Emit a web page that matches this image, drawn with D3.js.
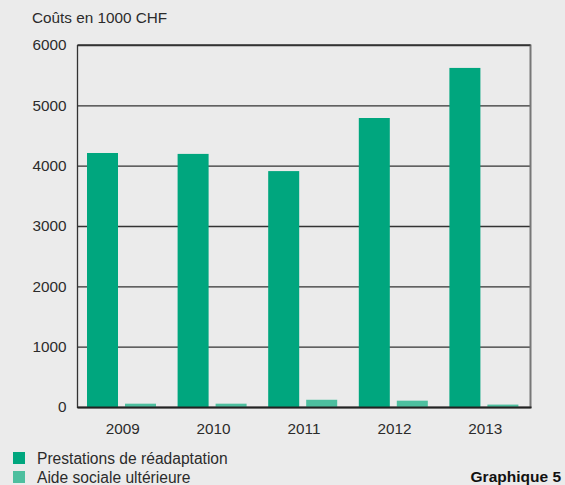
<!DOCTYPE html>
<html><head><meta charset="utf-8">
<script src="https://cdn.jsdelivr.net/npm/d3@7"></script>
<style>
html,body{margin:0;padding:0;background:#ebebeb;}
svg{display:block;font-family:"Liberation Sans","Helvetica",Arial,sans-serif;}
</style></head><body>
<svg id="chart" width="565" height="485"></svg>
<script>
const years = ["2009","2010","2011","2012","2013"];
const seriesNames = ["Prestations de réadaptation","Aide sociale ultérieure"];
const readaptation = [4210, 4195, 3910, 4790, 5620];
const aideSociale = [55, 55, 120, 105, 40];
const yTicks = [0,1000,2000,3000,4000,5000,6000];
const colors = ["#00a67e","#4dbf9f"];

(function(){
const svg = d3.select("#chart");
const pLeft = 77.5, pRight = 530.5, pTop = 45, pBottom = 407;
const fs = "15.3px", txt = "#2b2b2b";

const x0 = d3.scaleBand().domain(years).range([pLeft, pRight]).padding(0);
const x1 = d3.scaleBand().domain(seriesNames).range([9.5, 78.5]).paddingInner(7/38).paddingOuter(0);
const y = d3.scaleLinear().domain([0, 6000]).range([pBottom, pTop]);

// gridlines
const yAxis = d3.axisLeft(y).tickValues(yTicks).tickSize(-(pRight-pLeft)).tickPadding(11).tickFormat(d3.format("d"));
const gy = svg.append("g").attr("transform", `translate(${pLeft},0)`).call(yAxis);
gy.select(".domain").remove();
gy.selectAll(".tick line").attr("stroke", "#333").attr("stroke-width", 1.3);
gy.selectAll(".tick text").attr("fill", txt).style("font-size", fs);

// bars
const data = years.map((yr, i) => ({year: yr, vals: [readaptation[i], aideSociale[i]]}));
const groups = svg.append("g").selectAll("g").data(data).join("g")
  .attr("transform", d => `translate(${x0(d.year)},0)`);
groups.selectAll("rect").data(d => d.vals.map((v, j) => ({name: seriesNames[j], v, j})))
  .join("rect")
  .attr("x", d => x1(d.name))
  .attr("width", x1.bandwidth())
  .attr("y", d => y(d.v))
  .attr("height", d => y(0) - y(d.v))
  .attr("fill", d => colors[d.j]);

// frame
svg.append("line").attr("x1", pLeft).attr("x2", pLeft).attr("y1", pTop).attr("y2", pBottom+1).attr("stroke", "#333").attr("stroke-width", 1.3);
svg.append("line").attr("x1", pRight).attr("x2", pRight).attr("y1", pTop-0.5).attr("y2", pBottom+1).attr("stroke", "#777").attr("stroke-width", 2);
svg.append("line").attr("x1", pLeft).attr("x2", pRight+1).attr("y1", pBottom+0.5).attr("y2", pBottom+0.5).attr("stroke", "#222").attr("stroke-width", 1.8);
svg.append("line").attr("x1", pLeft).attr("x2", pRight).attr("y1", pTop).attr("y2", pTop).attr("stroke", "#333").attr("stroke-width", 1.3);

// x labels
const xAxis = d3.axisBottom(x0).tickSize(0).tickPadding(16);
const gx = svg.append("g").attr("transform", `translate(0,${pBottom})`).call(xAxis);
gx.select(".domain").remove();
gx.selectAll(".tick text").attr("fill", txt).style("font-size", fs);

// title
svg.append("text").attr("x", 32).attr("y", 23).attr("fill", txt).style("font-size", fs).text("Coûts en 1000 CHF");

// legend
const leg = svg.append("g").selectAll("g").data(seriesNames).join("g")
  .attr("transform", (d, i) => `translate(13,${452 + i*19})`);
leg.append("rect").attr("width", 12).attr("height", 12).attr("fill", (d, i) => colors[i]);
leg.append("text").attr("x", 24).attr("y", 11.5).attr("fill", txt).style("font-size", "15.6px").text(d => d);

svg.append("text").attr("x", 561).attr("y", 482).attr("text-anchor", "end").attr("fill", "#111")
  .style("font-size", "15.5px").style("font-weight", "bold").text("Graphique 5");
})();
</script>
</body></html>
